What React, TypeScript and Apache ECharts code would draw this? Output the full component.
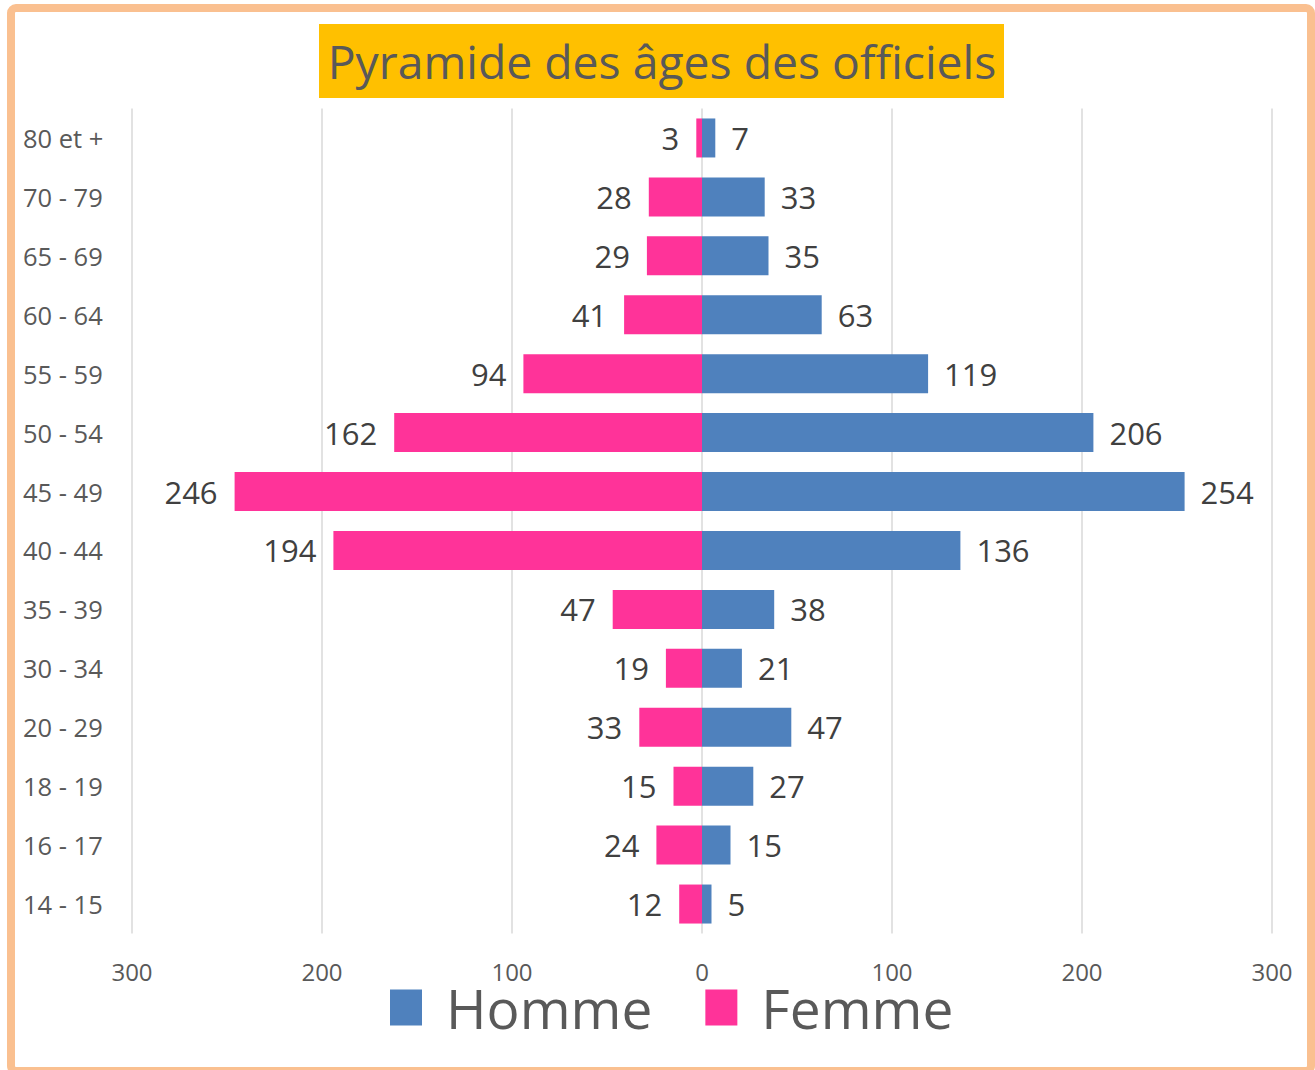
import React, { useEffect, useRef } from "react";
import * as echarts from "echarts";

const categories = ["80 et +", "70 - 79", "65 - 69", "60 - 64", "55 - 59", "50 - 54", "45 - 49", "40 - 44", "35 - 39", "30 - 34", "20 - 29", "18 - 19", "16 - 17", "14 - 15"];
const homme = [7, 33, 35, 63, 119, 206, 254, 136, 38, 21, 47, 27, 15, 5];
const femme = [3, 28, 29, 41, 94, 162, 246, 194, 47, 19, 33, 15, 24, 12];
const xTicks = [-300, -200, -100, 0, 100, 200, 300];
const titleText = "Pyramide des âges des officiels";

const FONT = "'Open Sans', 'Noto Sans', sans-serif";

export default function App() {
  const ref = useRef<HTMLDivElement>(null);
  useEffect(() => {
    document.body.style.margin = "0";
    const chart = echarts.init(ref.current!, null, { renderer: "svg" });
    chart.setOption({
      animation: false,
      backgroundColor: "#ffffff",
      textStyle: { fontFamily: FONT },
      graphic: [
        {
          type: "rect",
          shape: { x: 11, y: 8, width: 1300, height: 1063, r: 5 },
          style: { fill: "none", stroke: "#FAC090", lineWidth: 8 },
          z: 0,
        },
        {
          type: "rect",
          shape: { x: 319, y: 24, width: 685, height: 74 },
          style: { fill: "#FFC000" },
          z: 1,
        },
        {
          type: "text",
          x: 662,
          y: 61,
          style: {
            text: titleText,
            fill: "#595959",
            font: `46.3px ${FONT}`,
            align: "center",
            verticalAlign: "middle",
          },
          z: 2,
        },
      ],
      grid: { left: 132, right: 43, top: 108.5, bottom: 136.5 },
      legend: {
        data: ["Homme", "Femme"],
        left: 390,
        top: 980,
        padding: 0,
        icon: "rect",
        itemWidth: 32,
        itemHeight: 36,
        itemGap: 53,
        textStyle: { fontSize: 55, lineHeight: 34, color: "#595959", fontFamily: FONT, padding: [0, 0, 0, 19] },
      },
      xAxis: {
        type: "value",
        min: xTicks[0],
        max: xTicks[xTicks.length - 1],
        interval: 100,
        axisLine: { show: false },
        axisTick: { show: false },
        splitLine: { show: true, lineStyle: { color: "#D9D9D9", width: 1.5 } },
        axisLabel: {
          formatter: (v: number) => String(Math.abs(v)),
          fontSize: 24,
          color: "#595959",
          margin: 26,
          fontFamily: FONT,
        },
      },
      yAxis: {
        type: "category",
        data: categories,
        inverse: true,
        axisLine: { show: false },
        axisTick: { show: false },
        axisLabel: {
          align: "left",
          margin: 109,
          fontSize: 25.5,
          color: "#595959",
          fontFamily: FONT,
        },
      },
      series: [
        {
          name: "Homme",
          type: "bar",
          stack: "total",
          barWidth: 39,
          data: homme,
          itemStyle: { color: "#4F81BD" },
          label: {
            show: true,
            position: "right",
            distance: 16,
            fontSize: 31,
            color: "#404040",
            fontFamily: FONT,
          },
        },
        {
          name: "Femme",
          type: "bar",
          stack: "total",
          barWidth: 39,
          data: femme.map((v) => -v),
          itemStyle: { color: "#FF3399" },
          label: {
            show: true,
            position: "left",
            distance: 17,
            fontSize: 31,
            color: "#404040",
            fontFamily: FONT,
            formatter: (p: any) => String(Math.abs(p.value)),
          },
        },
      ],
    });
    return () => chart.dispose();
  }, []);
  return <div ref={ref} style={{ position: "absolute", left: 0, top: 0, width: 1315, height: 1070 }} />;
}
